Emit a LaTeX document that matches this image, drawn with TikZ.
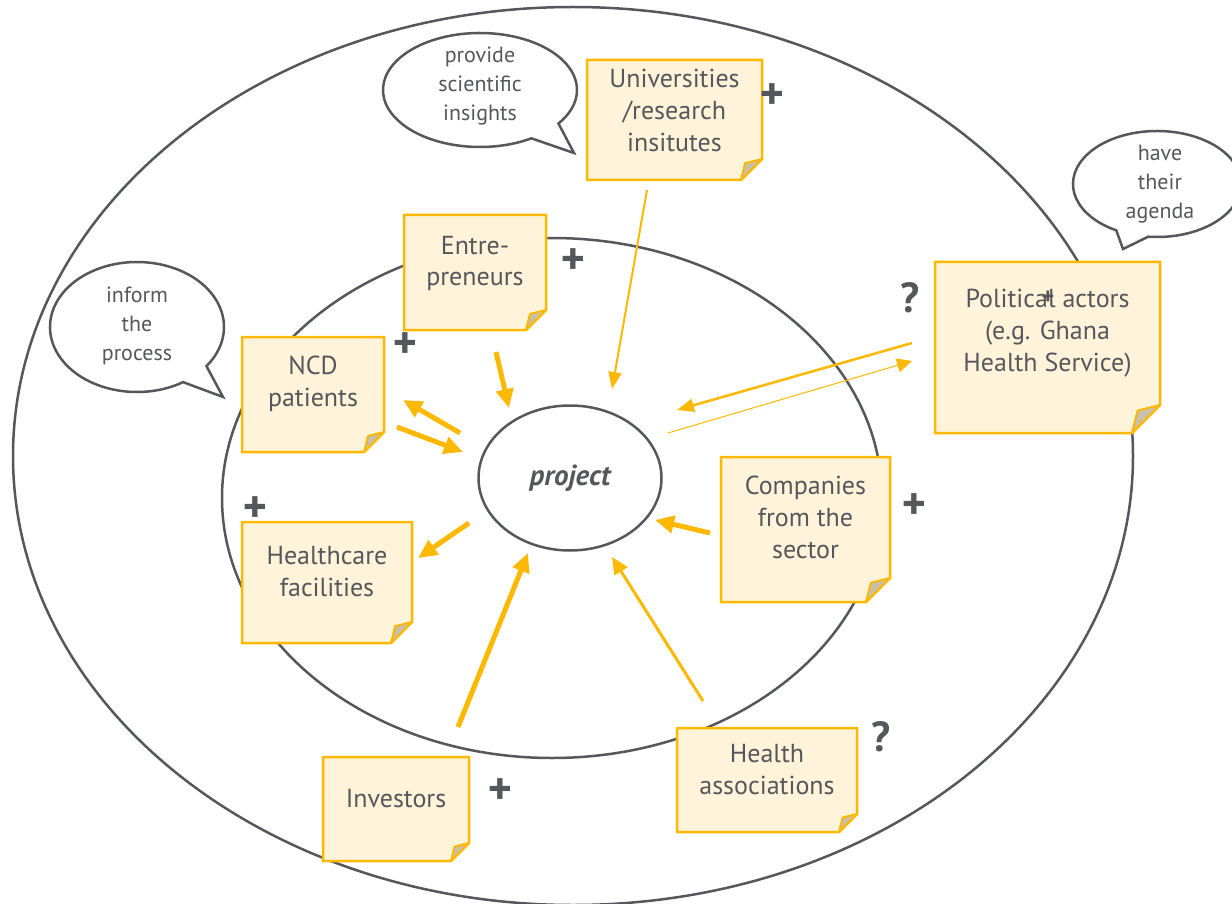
\documentclass[tikz,border=0pt]{standalone}
\usepackage{fontspec}
\setmainfont{PT Sans}
\usetikzlibrary{arrows.meta,shapes.geometric}
\definecolor{ink}{RGB}{86,87,92}
\definecolor{amber}{RGB}{255,184,0}
\definecolor{notebg}{RGB}{255,243,217}
\definecolor{foldgray}{RGB}{200,192,172}
\pgfdeclarelayer{back}
\pgfdeclarelayer{notes}
\pgfsetlayers{back,notes,main}
\tikzset{ring/.style={draw=ink,line width=2.5pt}}
\tikzset{bubble/.style={draw=ink,fill=white,line width=2.5pt}}
\tikzset{noteframe/.style={inner sep=0pt,outer sep=0pt}}
\tikzset{notebox/.style={draw=amber,fill=notebg,line width=2.5pt}}
\tikzset{notefold/.style={draw=amber,fill=foldgray,line width=2pt,line join=round}}
\tikzset{notetext/.style={text=ink,align=center,font=\fontsize{26}{32}\selectfont}}
\tikzset{saytext/.style={text=ink,align=center,font=\fontsize{22}{29}\selectfont}}
\tikzset{rating/.style={text=ink,inner sep=0pt,font=\fontsize{46}{46}\selectfont\bfseries\itshape}}
\tikzset{doubt/.style={rating,font=\fontsize{42}{42}\selectfont\bfseries}}
\tikzset{hub/.style={ellipse,draw=ink,line width=2.5pt,inner sep=0pt,text=ink,
                     font=\fontsize{29}{29}\selectfont\bfseries\itshape}}
\tikzset{thickflow/.style={draw=amber,line width=5pt,-{Triangle[length=19pt,width=17pt]}}}
\tikzset{midflow/.style={draw=amber,line width=3pt,-{Triangle[length=17pt,width=15pt]}}}
\tikzset{thinflow/.style={draw=amber,line width=2pt,-{Triangle[length=17pt,width=13pt]}}}
\tikzset{hairflow/.style={draw=amber,line width=1pt,-{Triangle[length=15pt,width=14pt]}}}

\begin{document}
\begin{tikzpicture}[x=1pt,y=-1pt]
    \useasboundingbox (0,0) rectangle (1232,904);
    \begin{pgfonlayer}{back}
      \draw[ring] (573,456) ellipse [x radius=560, y radius=449];
      \draw[ring] (552,498) ellipse [x radius=330, y radius=260];
    \end{pgfonlayer}
    \node[hub, minimum width=183pt, minimum height=145pt] (proj) at (570,478) {project};

    % sticky notes
    \foreach \nm/\cx/\cy/\w/\h/\f/\dy/\txt in {%
        uni/674.5/120/175/120/21/10/{Universities\\/research\\insitutes},
        ent/475/272.5/142/115/20/9/{Entre-\\preneurs},
        ncd/313/394.5/142/115/20/11/{NCD\\patients},
        hcf/327/582.5/170/121/21/11/{Healthcare\\facilities},
        comp/805.5/529.5/169/145/24/12/{Companies\\from the\\sector},
        pol/1047.5/347.5/225/171/28/14/{Political actors\\(e.g. Ghana\\Health Service)},
        inv/396/809/146/104/18/10/{Investors},
        hass/767/780/180/104/18/10/{Health\\associations}}{%
          \node[noteframe, minimum width=\w pt, minimum height=\h pt] (\nm) at (\cx,\cy) {};
          \begin{pgfonlayer}{notes}
            \draw[notebox] (\nm.north west) -- (\nm.north east) -- ([yshift=\f]\nm.south east)
                  -- ([xshift=-\f]\nm.south east) -- (\nm.south west) -- cycle;
            \draw[notefold] ([yshift=\f]\nm.south east) -- ([xshift=-0.8*\f,yshift=0.8*\f]\nm.south east)
                  -- ([xshift=-\f]\nm.south east) -- cycle;
          \end{pgfonlayer}
          \node[notetext] (\nm-t) at ([yshift=\dy]\nm.center) {\txt};
        }

    % speech bubbles
    \begin{pgfonlayer}{notes}
      \draw[bubble] (480,90) ++(58:97 and 57) arc[start angle=58, end angle=396, x radius=97, y radius=57]
            -- (574,153) -- cycle;
      \draw[bubble] (137,327) ++(58:87 and 65) arc[start angle=58, end angle=397, x radius=87, y radius=65]
            -- (223,397) -- cycle;
      \draw[bubble] (1157,184) ++(119:84 and 53) arc[start angle=119, end angle=456, x radius=84, y radius=53]
            -- (1123,249) -- cycle;
    \end{pgfonlayer}
    \node[saytext] (say-uni) at (480,86) {provide\\scientific\\insights};
    \node[saytext] (say-ncd) at (137,326) {inform\\the\\process};
    \node[saytext] (say-pol) at (1160,184) {have\\their\\agenda};

    % influence arrows
    \draw[thinflow] (647,190) coordinate (uni-out) -- (612,389) coordinate (proj-n);
    \draw[thickflow] (496,352) coordinate (ent-out) -- (509,408) coordinate (proj-nw);
    \draw[thickflow] (460,433) coordinate (proj-w1) -- (403,400) coordinate (ncd-in);
    \draw[thickflow] (397,427) coordinate (ncd-out) -- (463,452) coordinate (proj-w2);
    \draw[thickflow] (469,523) coordinate (proj-sw) -- (418,558) coordinate (hcf-in);
    \draw[thickflow] (710,533) coordinate (comp-out) -- (655,520) coordinate (proj-e);
    \draw[thickflow] (458,727) coordinate (inv-out) -- (528,553) coordinate (proj-s1);
    \draw[midflow] (703,701) coordinate (hass-out) -- (612,557) coordinate (proj-s2);
    \draw[thinflow,line width=2.5pt] (912,343) coordinate (pol-out) -- (677,410) coordinate (proj-ne);
    \draw[hairflow] (668,433) coordinate (proj-ne2) -- (912,361) coordinate (pol-in);

    % Labels
    \foreach \x/\y [count=\i] in {771/97, 572/262, 404/346, 254/510, 913/507, 499/792}{%
          \node[rating] (r\i) at (\x,\y) {+};
        }
    \node[doubt] (q1) at (910,298) {?};
    \node[doubt] (q2) at (881,737) {?};
    \node[rating, font=\fontsize{24}{24}\selectfont\bfseries] (r7) at (1048,298) {+};
\end{tikzpicture}
\end{document}
